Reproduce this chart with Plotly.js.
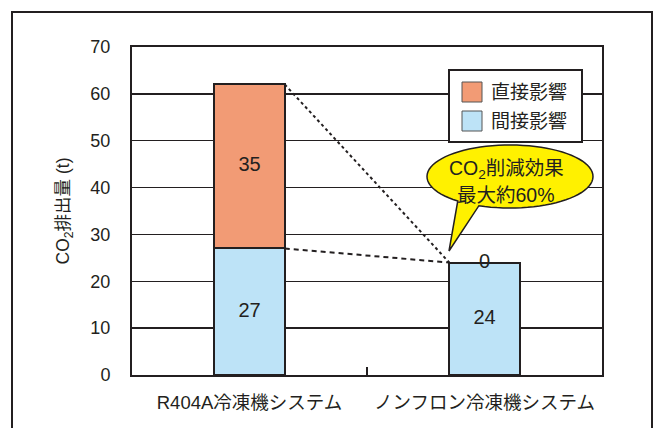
<!DOCTYPE html>
<html>
<head>
<meta charset="utf-8">
<script src="https://cdn.plot.ly/plotly-3.0.1.min.js"></script>
<style>
  html, body { margin: 0; padding: 0; background: #fff; }
  #chart { width: 656px; height: 428px; }
</style>
</head>
<body>
<div id="chart"></div>
<script>
// Systems compared
const categories = ['R404A冷凍機システム', 'ノンフロン冷凍機システム'];
// CO2 emissions (t) by effect type
const indirectEffect = [27, 24];
const directEffect = [35, 0];
const seriesNames = ['直接影響', '間接影響'];
const yTickValues = [0, 10, 20, 30, 40, 50, 60, 70];
const calloutLines = ['CO<sub>2</sub>削減効果', '最大約60%'];

const INK = '#231f20';
const ORANGE = '#f29b75';
const BLUE = '#bde3f7';
const YELLOW = '#fff100';
const FONT = 'Liberation Sans, Arial, "Noto Sans CJK JP", sans-serif';

const W = 656, H = 428;
const M = { l: 132, r: 54, t: 47, b: 53 };
const PW = W - M.l - M.r, PH = H - M.t - M.b;
const px = x => (x - M.l) / PW;          // pixel x -> paper
const py = y => (H - M.b - y) / PH;      // pixel y -> paper

const BAR_W = 0.3;

const traces = [
  {
    type: 'bar', name: seriesNames[1], x: categories, y: indirectEffect,
    width: BAR_W, marker: { color: BLUE, line: { color: INK, width: 2 } },
    hoverinfo: 'skip', showlegend: false
  },
  {
    type: 'bar', name: seriesNames[0], x: categories, y: directEffect,
    width: BAR_W, marker: { color: ORANGE, line: { color: INK, width: 2 } },
    hoverinfo: 'skip', showlegend: false
  },
  {
    // value labels at the middle of each stacked segment
    type: 'scatter', mode: 'text',
    x: categories.concat(categories),
    y: indirectEffect.map(v => v / 2).concat(directEffect.map((v, i) => indirectEffect[i] + v / 2)),
    text: indirectEffect.concat(directEffect).map(String),
    textfont: { family: FONT, size: 20, color: INK },
    hoverinfo: 'skip', showlegend: false
  }
];

const shapes = [];
const annotations = [];

// outer frame
shapes.push({
  type: 'rect', xref: 'paper', yref: 'paper', layer: 'above',
  x0: px(12), x1: px(652), y0: py(12), y1: py(470),
  line: { color: INK, width: 2 }, fillcolor: 'rgba(0,0,0,0)'
});

// connector lines from the R404A bar to the non-fluorocarbon bar
const total0 = indirectEffect[0] + directEffect[0];
const total1 = indirectEffect[1] + directEffect[1];
shapes.push({
  type: 'line', xref: 'x', yref: 'y', layer: 'above',
  x0: 0 + BAR_W / 2, y0: total0, x1: 1 - BAR_W / 2, y1: total1,
  line: { color: INK, width: 2, dash: '3px,3px' }
});
shapes.push({
  type: 'line', xref: 'x', yref: 'y', layer: 'above',
  x0: 0 + BAR_W / 2, y0: indirectEffect[0], x1: 1 - BAR_W / 2, y1: total1,
  line: { color: INK, width: 2, dash: '5px,4px' }
});

// speech balloon
(function () {
  const cx = 510, cy = 176.5, rx = 83, ry = 31.5;
  const t0 = 129 * Math.PI / 180, t1 = (360 + 112) * Math.PI / 180;
  const n = 80;
  let d = '';
  for (let i = 0; i <= n; i++) {
    const t = t0 + (t1 - t0) * i / n;
    const X = cx + rx * Math.cos(t), Y = cy + ry * Math.sin(t);
    d += (i === 0 ? 'M' : 'L') + px(X).toFixed(5) + ',' + py(Y).toFixed(5);
  }
  d += 'L' + px(449).toFixed(5) + ',' + py(251).toFixed(5) + 'Z';
  shapes.push({
    type: 'path', xref: 'paper', yref: 'paper', layer: 'above', path: d,
    fillcolor: YELLOW, line: { color: INK, width: 1.5 }
  });
  [169, 195].forEach((y, i) => {
    annotations.push({
      xref: 'paper', yref: 'paper', x: px(506), y: py(y),
      xanchor: 'center', yanchor: 'middle', showarrow: false, align: 'center',
      text: calloutLines[i], font: { family: FONT, size: 19.5, color: INK }
    });
  });
})();

// legend box
shapes.push({
  type: 'rect', xref: 'paper', yref: 'paper', layer: 'above',
  x0: px(449), x1: px(582), y0: py(70), y1: py(142),
  fillcolor: '#ffffff', line: { color: INK, width: 2 }
});
const legendRows = [
  { name: seriesNames[0], color: ORANGE, y: 92 },
  { name: seriesNames[1], color: BLUE, y: 121 }
];
legendRows.forEach(r => {
  shapes.push({
    type: 'rect', xref: 'paper', yref: 'paper', layer: 'above',
    x0: px(462), x1: px(482), y0: py(r.y - 10), y1: py(r.y + 10),
    fillcolor: r.color, line: { color: '#555', width: 1 }
  });
  annotations.push({
    xref: 'paper', yref: 'paper', x: px(489), y: py(r.y),
    xanchor: 'left', yanchor: 'middle', showarrow: false,
    text: r.name, font: { family: FONT, size: 19, color: INK }
  });
});

const layout = {
  width: W, height: H,
  margin: M,
  paper_bgcolor: '#ffffff', plot_bgcolor: '#ffffff',
  barmode: 'stack', bargap: 0,
  showlegend: false,
  font: { family: FONT, color: INK },
  xaxis: {
    type: 'category', range: [-0.5, 1.5],
    showline: true, mirror: true, linecolor: INK, linewidth: 2,
    showgrid: false, zeroline: false,
    ticks: 'inside', tickson: 'boundaries', ticklen: 8, tickwidth: 1.5, tickcolor: INK,
    ticklabelstandoff: 10,
    tickfont: { family: FONT, size: 18.5, color: INK },
    fixedrange: true
  },
  yaxis: {
    range: [0, 70], tickvals: yTickValues, ticktext: yTickValues.map(String),
    showline: true, mirror: true, linecolor: INK, linewidth: 2,
    showgrid: true, gridcolor: INK, gridwidth: 1.5, zeroline: false,
    ticks: '', ticklabelstandoff: 16,
    tickfont: { family: FONT, size: 18, color: INK },
    title: { text: 'CO<sub>2</sub>排出量 (t)', font: { family: FONT, size: 17.5, color: INK }, standoff: 16 },
    fixedrange: true
  },
  shapes: shapes,
  annotations: annotations
};

Plotly.newPlot('chart', traces, layout, { displayModeBar: false, staticPlot: true });
</script>
</body>
</html>
